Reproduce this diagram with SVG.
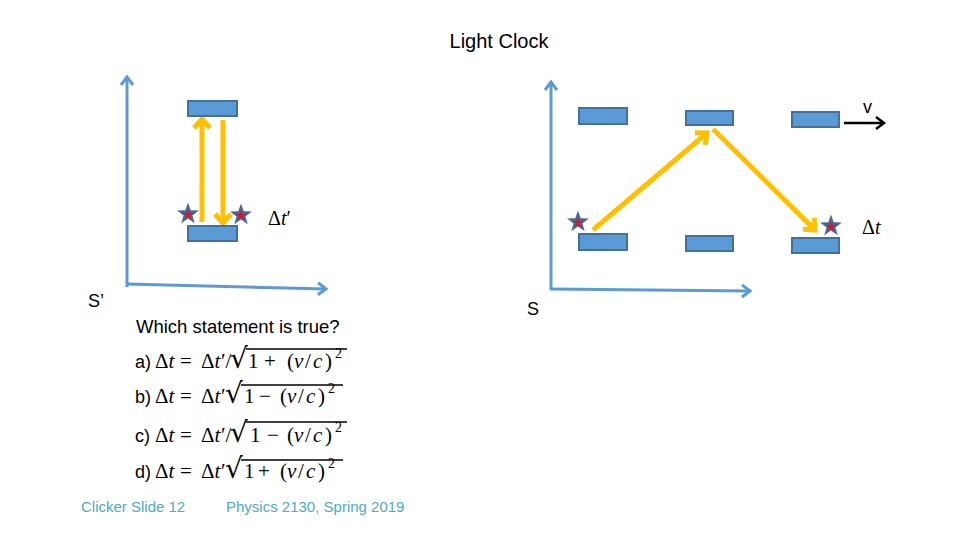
<svg xmlns="http://www.w3.org/2000/svg" xmlns:xlink="http://www.w3.org/1999/xlink" width="960" height="540" viewBox="0 0 960 540">
<style>
.axis{stroke:#5B9BD5;stroke-width:3;fill:none}
.mirror{fill:#5B9BD5;stroke:#41719C;stroke-width:2}
.light{stroke:#FFC000;stroke-width:5;fill:none}
.sans{font-family:"Liberation Sans",Arial,sans-serif;fill:#000}
.math{font-family:"Liberation Serif","Times New Roman",serif;font-size:21px;fill:#000}
.lbl{font-family:"Liberation Serif","Times New Roman",serif;font-size:20px;fill:#000}
.it{font-style:italic}
.rad{font-family:"DejaVu Sans",sans-serif;font-size:28px}
.sup{font-size:14px}
.foot{font-family:"Liberation Sans",Arial,sans-serif;font-size:15px;fill:#4BACC6}
.vinc{stroke:#000;stroke-width:1.3}
</style>
<defs>
<marker id="ah-blue" markerUnits="userSpaceOnUse" markerWidth="20" markerHeight="20" refX="0" refY="0" orient="auto" overflow="visible">
<path d="M-8,-6 L0,0 L-8,6" fill="none" stroke="#5B9BD5" stroke-width="3"/>
</marker>
<marker id="ah-yellow" markerUnits="userSpaceOnUse" markerWidth="30" markerHeight="30" refX="0" refY="0" orient="auto" overflow="visible">
<path d="M-9,-8 L0,0 L-9,8" fill="none" stroke="#FFC000" stroke-width="5"/>
</marker>
<marker id="ah-black" markerUnits="userSpaceOnUse" markerWidth="20" markerHeight="20" refX="0" refY="0" orient="auto" overflow="visible">
<path d="M-8,-6 L0,0 L-8,6" fill="none" stroke="#000" stroke-width="2.5"/>
</marker>
<g id="star">
<polygon points="0,-11.5 2.7,-3.7 10.9,-3.55 4.4,1.4 6.75,9.3 0,4.6 -6.75,9.3 -4.4,1.4 -10.9,-3.55 -2.7,-3.7" fill="#4A6590"/>
<polygon points="0,-11.5 2.7,-3.7 10.9,-3.55 4.4,1.4 6.75,9.3 0,4.6 -6.75,9.3 -4.4,1.4 -10.9,-3.55 -2.7,-3.7" fill="#E0102E" transform="translate(0,0.7) scale(0.45)"/>
</g>
</defs>
<rect width="960" height="540" fill="#fff"/>

<text class="sans" x="499" y="48" font-size="20" text-anchor="middle">Light Clock</text>

<!-- connectors -->
<g id="connectors">
<path class="axis" d="M127,287 L127,77" marker-end="url(#ah-blue)"/>
<path class="axis" d="M126,284 L326,289" marker-end="url(#ah-blue)"/>
<path class="axis" d="M551,290 L551,82" marker-end="url(#ah-blue)"/>
<path class="axis" d="M550,289 L750,291" marker-end="url(#ah-blue)"/>
<path class="light" d="M202,222 L202,119" marker-end="url(#ah-yellow)"/>
<path class="light" d="M223,120 L223,223" marker-end="url(#ah-yellow)"/>
<path class="light" d="M593,230 L707,133" marker-end="url(#ah-yellow)"/>
<path class="light" d="M713,129 L815,230" marker-end="url(#ah-yellow)"/>
<path d="M844,123 L884,123" stroke="#000" stroke-width="2.5" fill="none" marker-end="url(#ah-black)"/>
</g>

<!-- left frame S' -->
<g id="mirror-left-top"><rect class="mirror" x="188" y="101" width="49" height="15"/></g>
<g id="mirror-left-bottom"><rect class="mirror" x="188" y="226" width="49" height="15"/></g>
<g id="star-left-1"><use xlink:href="#star" x="188" y="214"/></g>
<g id="star-left-2"><use xlink:href="#star" x="241" y="215"/></g>
<text class="lbl" x="268" y="225"><tspan>Δ</tspan><tspan class="it">t</tspan><tspan>′</tspan></text>
<text class="sans" x="88" y="307" font-size="18">S’</text>

<!-- right frame S -->
<g id="mirror-right-top-1"><rect class="mirror" x="579" y="108" width="48" height="16"/></g>
<g id="mirror-right-top-2"><rect class="mirror" x="686" y="111" width="47" height="14"/></g>
<g id="mirror-right-top-3"><rect class="mirror" x="792" y="112" width="47" height="15"/></g>
<g id="mirror-right-bottom-1"><rect class="mirror" x="579" y="234" width="48" height="16"/></g>
<g id="mirror-right-bottom-2"><rect class="mirror" x="686" y="236" width="47" height="15"/></g>
<g id="mirror-right-bottom-3"><rect class="mirror" x="792" y="238" width="47" height="15"/></g>
<g id="star-right-1"><use xlink:href="#star" x="578" y="222"/></g>
<g id="star-right-2"><use xlink:href="#star" x="831" y="226"/></g>
<text class="lbl" x="862" y="234"><tspan>Δ</tspan><tspan class="it">t</tspan></text>
<text class="sans" x="863" y="113" font-size="18">v</text>
<text class="sans" x="527" y="315" font-size="18">S</text>

<!-- question -->
<text class="sans" x="136" y="333" font-size="18.5">Which statement is true?</text>

<!-- a -->
<text class="sans" x="135" y="368" font-size="18">a)</text>
<text class="math" y="368"><tspan x="155">Δ</tspan><tspan x="168.5" class="it">t</tspan><tspan x="180">=</tspan><tspan x="201">Δ</tspan><tspan x="214.5" class="it">t</tspan><tspan x="221">′</tspan><tspan x="225.5">/</tspan><tspan x="230" class="rad">√</tspan><tspan x="248">1</tspan><tspan x="264">+</tspan><tspan x="287">(</tspan><tspan x="294" class="it">v</tspan><tspan x="305">/</tspan><tspan x="313" class="it">c</tspan><tspan x="325">)</tspan><tspan x="335" y="358" class="sup">2</tspan></text>
<line class="vinc" x1="246" y1="349" x2="347" y2="349"/>

<!-- b -->
<text class="sans" x="135" y="403" font-size="18">b)</text>
<text class="math" y="403"><tspan x="155">Δ</tspan><tspan x="168.5" class="it">t</tspan><tspan x="180">=</tspan><tspan x="201">Δ</tspan><tspan x="214.5" class="it">t</tspan><tspan x="221">′</tspan><tspan x="225" class="rad">√</tspan><tspan x="244">1</tspan><tspan x="259">−</tspan><tspan x="280">(</tspan><tspan x="287" class="it">v</tspan><tspan x="298">/</tspan><tspan x="306" class="it">c</tspan><tspan x="318">)</tspan><tspan x="328" y="393" class="sup">2</tspan></text>
<line class="vinc" x1="241" y1="385" x2="343" y2="385"/>

<!-- c -->
<text class="sans" x="135" y="442" font-size="18">c)</text>
<text class="math" y="442"><tspan x="155">Δ</tspan><tspan x="168.5" class="it">t</tspan><tspan x="180">=</tspan><tspan x="201">Δ</tspan><tspan x="214.5" class="it">t</tspan><tspan x="221">′</tspan><tspan x="225.5">/</tspan><tspan x="230" class="rad">√</tspan><tspan x="250">1</tspan><tspan x="267">−</tspan><tspan x="287">(</tspan><tspan x="294" class="it">v</tspan><tspan x="305">/</tspan><tspan x="313" class="it">c</tspan><tspan x="325">)</tspan><tspan x="335" y="432" class="sup">2</tspan></text>
<line class="vinc" x1="246" y1="422" x2="347" y2="422"/>

<!-- d -->
<text class="sans" x="135" y="478" font-size="18">d)</text>
<text class="math" y="478"><tspan x="155">Δ</tspan><tspan x="168.5" class="it">t</tspan><tspan x="180">=</tspan><tspan x="201">Δ</tspan><tspan x="214.5" class="it">t</tspan><tspan x="221">′</tspan><tspan x="225" class="rad">√</tspan><tspan x="244">1</tspan><tspan x="258">+</tspan><tspan x="280">(</tspan><tspan x="287" class="it">v</tspan><tspan x="298">/</tspan><tspan x="306" class="it">c</tspan><tspan x="318">)</tspan><tspan x="328" y="468" class="sup">2</tspan></text>
<line class="vinc" x1="241" y1="460" x2="343" y2="460"/>

<!-- footer -->
<text class="foot" x="81" y="512">Clicker Slide 12</text>
<text class="foot" x="226" y="512">Physics 2130, Spring 2019</text>
</svg>
